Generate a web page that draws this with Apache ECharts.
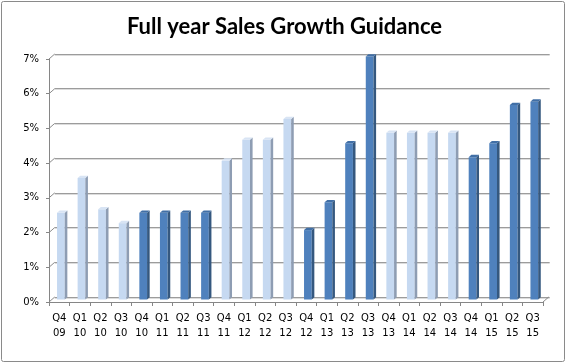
<!DOCTYPE html>
<html>
<head>
<meta charset="utf-8">
<script src="https://cdn.jsdelivr.net/npm/echarts@6/dist/echarts.min.js"></script>
<style>
html,body{margin:0;padding:0;background:#fff;}
#main{width:569px;height:364px;}
</style>
</head>
<body>
<div id="main"></div>
<script>
// ---- data ----
var categories = ['Q4\n09','Q1\n10','Q2\n10','Q3\n10','Q4\n10','Q1\n11','Q2\n11','Q3\n11',
  'Q4\n11','Q1\n12','Q2\n12','Q3\n12','Q4\n12','Q1\n13','Q2\n13','Q3\n13',
  'Q4\n13','Q1\n14','Q2\n14','Q3\n14','Q4\n14','Q1\n15','Q2\n15','Q3\n15'];
var growthValues = [2.5,3.5,2.6,2.2,2.5,2.5,2.5,2.5,
  4.0,4.6,4.6,5.2,2.0,2.8,4.5,7.0,
  4.8,4.8,4.8,4.8,4.1,4.5,5.6,5.7];
// 0 = light bar, 1 = dark bar
var barShade = [0,0,0,0,1,1,1,1,
  0,0,0,0,1,1,1,1,
  0,0,0,0,1,1,1,1];
var yTicks = [0,1,2,3,4,5,6,7];
var titleText = 'Full year Sales Growth Guidance';

// ---- styles ----
var palettes = [
  {front:'#C6D9F1', side:'#8E9DB3', top:'#D8E4F4'},
  {front:'#4F81BD', side:'#35587F', top:'#416FA6'}
];
var DX = 5.7, DY = -5;

var barData = growthValues.map(function(v,i){ return [i, v, barShade[i]]; });
var tickData = yTicks.map(function(v){ return [0, v]; });

var chart = echarts.init(document.getElementById('main'), null, {renderer:'canvas'});

var gridL = 49, gridT = 59, gridW = 494, gridH = 243;

chart.setOption({
  animation: false,
  title: {
    text: titleText, left: 'center', top: 11,
    textStyle: {fontFamily: 'Lato', fontWeight: 'bold', fontSize: 22, color: '#000'}
  },
  graphic: [{
    type: 'rect', shape: {x: 1.5, y: 1.5, width: 563, height: 360, r: 2},
    style: {fill: 'none', stroke: '#8a8a8a', lineWidth: 1}, z: 100
  }],
  grid: [
    {left: gridL, top: gridT, width: gridW, height: gridH},
    {left: gridL + DX, top: gridT + DY, width: gridW + 1, height: gridH},
    {left: gridL + DX, top: gridT + DY + 1, width: gridW + 1, height: gridH}
  ],
  xAxis: [
    {gridIndex: 0, type: 'category', data: categories, boundaryGap: true,
     axisLine: {show: true, lineStyle: {color: '#868686', width: 1}},
     axisTick: {show: true, length: 4, alignWithLabel: false, lineStyle: {color: '#868686'}},
     axisLabel: {interval: 0, margin: 9, color: '#000', fontFamily: 'DejaVu Sans', fontSize: 10, lineHeight: 15}
    },
    {gridIndex: 1, type: 'category', data: categories, show: false},
    {gridIndex: 2, type: 'category', data: categories, show: false}
  ],
  yAxis: [
    {gridIndex: 0, type: 'value', min: 0, max: 7, interval: 1,
     axisLine: {show: true, lineStyle: {color: '#868686'}},
     axisTick: {show: true, length: 3, lineStyle: {color: '#868686'}},
     axisLabel: {margin: 10, color: '#000', fontFamily: 'DejaVu Sans', fontSize: 10, padding: [3, 0, 0, 0],
       formatter: function(v){ return v + '%'; }},
     splitLine: {show: false}
    },
    {gridIndex: 1, type: 'value', min: 0, max: 7, interval: 1,
     axisLine: {show: false}, axisTick: {show: false}, axisLabel: {show: false},
     splitLine: {show: true, lineStyle: {color: '#9c9c9c', width: 1}}
    },
    {gridIndex: 2, type: 'value', min: 0, max: 7, interval: 1,
     axisLine: {show: false}, axisTick: {show: false}, axisLabel: {show: false},
     splitLine: {show: true, lineStyle: {color: '#dcdcdc', width: 1}}
    }
  ],
  series: [
    {
      type: 'custom', xAxisIndex: 0, yAxisIndex: 0, data: tickData, z: 3, silent: true,
      renderItem: function(params, api){
        var p = api.coord([0, api.value(1)]);
        var bw = api.size([1, 0])[0];
        var x = p[0] - bw / 2;
        var children = [{
          type: 'line', shape: {x1: x, y1: p[1], x2: x + DX, y2: p[1] + DY},
          style: {stroke: '#8a8a8a', lineWidth: 1}
        }];
        if (api.value(1) === 0) {
          var xr = x + bw * categories.length;
          children.push({
            type: 'line', shape: {x1: xr, y1: p[1], x2: xr + DX, y2: p[1] + DY},
            style: {stroke: '#8a8a8a', lineWidth: 1}
          });
        }
        return {type: 'group', children: children};
      }
    },
    {
      type: 'custom', xAxisIndex: 0, yAxisIndex: 0, data: barData, z: 5, silent: true,
      encode: {x: 0, y: 1},
      renderItem: function(params, api){
        var i = api.value(0), v = api.value(1), g = api.value(2);
        var topP = api.coord([i, v]);
        var baseP = api.coord([i, 0]);
        var bw = api.size([1, 0])[0];
        var pal = palettes[g];
        var x0 = topP[0] - bw * 0.11;
        var w = bw * 0.375;
        var shift = -2.5;
        var yt = topP[1] + shift, yb = baseP[1] + shift;
        var dx = 2.6, dy = -2.3;
        return {type: 'group', children: [
          {type: 'rect', shape: {x: x0, y: yt, width: w, height: yb - yt},
           style: {fill: pal.front}},
          {type: 'polygon', shape: {points: [[x0 + w, yt], [x0 + w + dx, yt + dy], [x0 + w + dx, yb + dy], [x0 + w, yb]]},
           style: {fill: pal.side}},
          {type: 'polygon', shape: {points: [[x0, yt], [x0 + dx, yt + dy], [x0 + w + dx, yt + dy], [x0 + w, yt]]},
           style: {fill: pal.top}}
        ]};
      }
    }
  ]
});
</script>
</body>
</html>
